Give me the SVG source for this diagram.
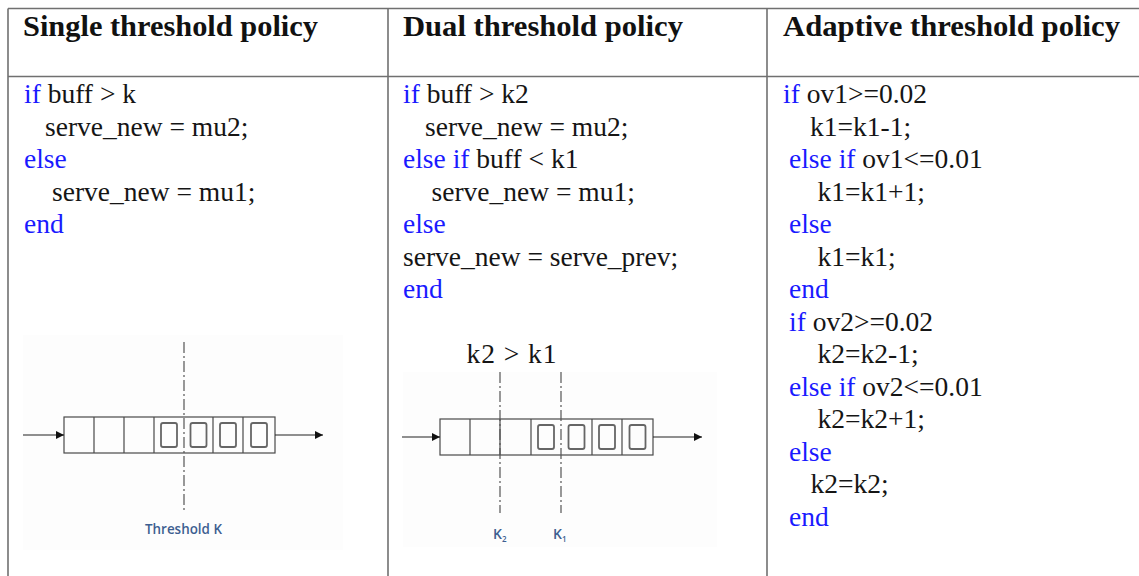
<svg xmlns="http://www.w3.org/2000/svg" width="1139" height="576" viewBox="0 0 1139 576">
  <style>
    .grid { stroke: #707070; stroke-width: 1.6; fill: none; }
    .head { font-family: "Liberation Serif", "Times New Roman", serif; font-weight: bold; font-size: 30px; fill: #111; }
    .code { font-family: "Liberation Serif", "Times New Roman", serif; font-size: 27.5px; fill: #151515; }
    .kw { fill: #1a1aff; }
    .q { stroke: #4a4a4a; stroke-width: 1.2; fill: none; }
    .slot { stroke: #666; stroke-width: 1.8; fill: none; }
    .cut { stroke: #555; stroke-width: 1.2; stroke-dasharray: 11 3 2 3; fill: none; }
    .flow { stroke: #222; stroke-width: 1.2; fill: none; marker-end: url(#tip); }
    .lbl { font-family: "Open Sans", "Liberation Sans", sans-serif; font-size: 14px; font-weight: 600; fill: #3d5f91; }
    .haze { fill: #fdfdfd; }
  </style>
  <defs>
    <marker id="tip" viewBox="0 0 8 8" refX="8" refY="4" markerWidth="8" markerHeight="8" markerUnits="userSpaceOnUse" orient="auto">
      <path d="M0,0 L8,4 L0,8 Z" fill="#111"/>
    </marker>
  </defs>

  <rect width="1139" height="576" fill="#fff"/>

  <!-- table rules -->
  <g id="table">
    <line class="grid" x1="8" y1="8.5" x2="1139" y2="8.5"/>
    <line class="grid" x1="8" y1="76.5" x2="1139" y2="76.5"/>
    <line class="grid" x1="8" y1="8.5" x2="8" y2="576"/>
    <line class="grid" x1="388" y1="8.5" x2="388" y2="576"/>
    <line class="grid" x1="767" y1="8.5" x2="767" y2="576"/>
  </g>

  <!-- column headers -->
  <g id="headers">
    <text class="head" x="23" y="36" textLength="295" lengthAdjust="spacingAndGlyphs">Single threshold policy</text>
    <text class="head" x="403" y="36" textLength="280" lengthAdjust="spacingAndGlyphs">Dual threshold policy</text>
    <text class="head" x="783" y="36" textLength="337" lengthAdjust="spacingAndGlyphs">Adaptive threshold policy</text>
  </g>

  <!-- single threshold code -->
  <g id="code-single" class="code">
    <text x="24" y="103"><tspan class="kw">if</tspan> buff &gt; k</text>
    <text x="45" y="135.5">serve_new = mu2;</text>
    <text x="24" y="168" class="kw">else</text>
    <text x="52" y="200.5">serve_new = mu1;</text>
    <text x="24" y="233" class="kw">end</text>
  </g>

  <!-- dual threshold code -->
  <g id="code-dual" class="code">
    <text x="403" y="103"><tspan class="kw">if</tspan> buff &gt; k2</text>
    <text x="425" y="135.5">serve_new = mu2;</text>
    <text x="403" y="168"><tspan class="kw">else if</tspan> buff &lt; k1</text>
    <text x="431.5" y="200.5">serve_new = mu1;</text>
    <text x="403" y="233" class="kw">else</text>
    <text x="403" y="265.5">serve_new = serve_prev;</text>
    <text x="403" y="298" class="kw">end</text>
  </g>

  <!-- adaptive threshold code -->
  <g id="code-adaptive" class="code">
    <text x="783" y="103"><tspan class="kw">if</tspan> ov1&gt;=0.02</text>
    <text x="810" y="135.5">k1=k1-1;</text>
    <text x="789" y="168"><tspan class="kw">else if</tspan> ov1&lt;=0.01</text>
    <text x="817.5" y="200.5">k1=k1+1;</text>
    <text x="789" y="233" class="kw">else</text>
    <text x="817.5" y="265.5">k1=k1;</text>
    <text x="789" y="298" class="kw">end</text>
    <text x="789" y="330.5"><tspan class="kw">if</tspan> ov2&gt;=0.02</text>
    <text x="817.5" y="363">k2=k2-1;</text>
    <text x="789" y="395.5"><tspan class="kw">else if</tspan> ov2&lt;=0.01</text>
    <text x="817.5" y="428">k2=k2+1;</text>
    <text x="789" y="460.5" class="kw">else</text>
    <text x="810.5" y="493">k2=k2;</text>
    <text x="789" y="525.5" class="kw">end</text>
  </g>

  <!-- single threshold queue -->
  <g id="queue-single">
    <rect class="haze" x="23" y="335" width="320" height="215"/>
    <rect class="q" x="64" y="417" width="211" height="36"/>
    <path class="q" d="M94,417V453 M124,417V453 M154,417V453 M213,417V453 M243,417V453"/>
    <rect class="slot" x="161" y="423" width="16" height="24" rx="2"/>
    <rect class="slot" x="190.5" y="423" width="16" height="24" rx="2"/>
    <rect class="slot" x="220" y="423" width="16" height="24" rx="2"/>
    <rect class="slot" x="251" y="423" width="16" height="24" rx="2"/>
    <line class="cut" x1="184" y1="342" x2="184" y2="510"/>
    <text class="lbl" x="145" y="534" textLength="77" lengthAdjust="spacingAndGlyphs">Threshold K</text>
  </g>

  <!-- dual threshold queue -->
  <g id="queue-dual">
    <text class="code" x="466.5" y="363" textLength="90">k2 &gt; k1</text>
    <rect class="haze" x="403" y="372" width="314" height="175"/>
    <rect class="q" x="440" y="419" width="213" height="36"/>
    <path class="q" d="M470,419V455 M500,419V455 M531,419V455 M592,419V455 M622,419V455"/>
    <rect class="slot" x="538" y="425" width="16" height="24" rx="2"/>
    <rect class="slot" x="568.5" y="425" width="16" height="24" rx="2"/>
    <rect class="slot" x="599" y="425" width="16" height="24" rx="2"/>
    <rect class="slot" x="629.5" y="425" width="16" height="24" rx="2"/>
    <line class="cut" x1="500" y1="372" x2="500" y2="513"/>
    <line class="cut" x1="561" y1="372" x2="561" y2="513"/>
    <text class="lbl" x="493" y="539">K<tspan font-size="8" dy="3">2</tspan></text>
    <text class="lbl" x="553" y="539">K<tspan font-size="8" dy="3">1</tspan></text>
  </g>

  <!-- queue arrows -->
  <g id="connectors">
    <line class="flow" x1="23" y1="435" x2="64" y2="435"/>
    <line class="flow" x1="275" y1="435" x2="323" y2="435"/>
    <line class="flow" x1="402" y1="437" x2="440" y2="437"/>
    <line class="flow" x1="653" y1="437" x2="702" y2="437"/>
  </g>
</svg>
